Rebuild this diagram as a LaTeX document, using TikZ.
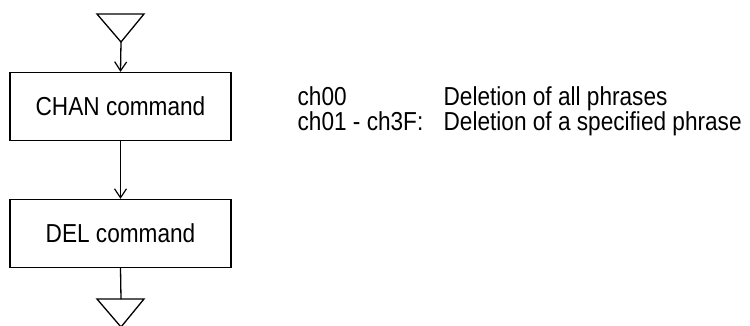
\documentclass[tikz,border=0pt]{standalone}
\usepackage{fontspec}
\setmainfont[FakeStretch=0.87]{Liberation Sans}
\usetikzlibrary{arrows.meta}

\begin{document}
\begin{tikzpicture}[x=1pt, y=-1pt, line width=1.3pt,
    font=\fontsize{26}{25}\selectfont,
    cmdbox/.style={draw, minimum width=221pt, minimum height=68pt, inner sep=0pt},
    flow/.style={-{Straight Barb[length=9pt, width=12pt, line width=1.2pt]}},
    note/.style={anchor=base west, inner sep=0pt}]
  \useasboundingbox (0,0) rectangle (750,325);

  % Command boxes
  \node[cmdbox] (chan) at (120.5,106.5) {CHAN command};
  \node[cmdbox] (del) at (120.5,233.5) {DEL command};

  % Connector triangles
  \draw (97,14) -- (144,14) -- (121,42) coordinate (in) -- cycle;
  \draw (97,299) -- (144,299) -- (121,327) -- cycle;
  \coordinate (out) at (121,299);

  % Flow lines
  \draw[flow] (in) -- (chan.north);
  \draw[flow] (chan.south) -- (del.north);
  \draw (del.south) -- (out);

  % Parameter notes
  \node[note] (p0) at (297,105) {ch00};
  \node[note] (d0) at (443,105) {Deletion of all phrases};
  \node[note] (p1) at (297,130) {ch01 - ch3F:};
  \node[note] (d1) at (443,130) {Deletion of a specified phrase};

\end{tikzpicture}
\end{document}
